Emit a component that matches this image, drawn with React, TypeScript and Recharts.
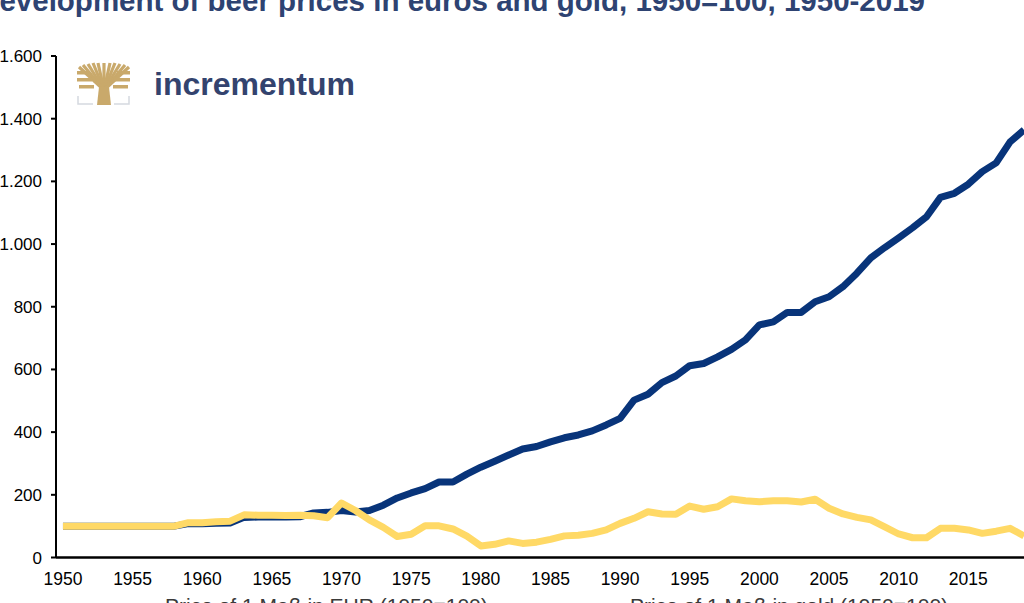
import React from 'react';
import { Legend, Line, LineChart, XAxis, YAxis } from 'recharts';

const YEARS = Array.from({ length: 70 }, (_, i) => 1950 + i);

// beer price (1 Maß) in EUR, 1950=100
const EUR_INDEX = [
  100, 100, 100, 100, 100, 100, 100, 100, 100, 108,
  108, 109, 110, 128, 129, 129, 129, 130, 142, 144,
  150, 145, 150, 167, 190, 206, 220, 241, 241, 266,
  288, 307, 327, 346, 354, 369, 382, 391, 404, 423,
  444, 502, 521, 558, 579, 612, 619, 640, 664, 694,
  742, 752, 782, 782, 816, 832, 864, 907, 956, 989,
  1020, 1052, 1087, 1149, 1162, 1191, 1231, 1259, 1326, 1364,
];

// beer price (1 Maß) in gold, 1950=100
const GOLD_INDEX = [
  100, 100, 100, 100, 100, 100, 100, 100, 100, 111,
  111, 114, 116, 136, 135, 135, 134, 135, 133, 127,
  174, 150, 120, 96, 67, 74, 101, 101, 91, 68,
  37, 42, 53, 45, 49, 58, 69, 71, 77, 88,
  109, 125, 146, 139, 138, 164, 154, 162, 187, 181,
  178, 181, 181, 177, 186, 157, 139, 128, 120, 98,
  75, 63, 63, 93, 93, 88, 77, 84, 93, 69,
];

const X_TICKS = [1950, 1955, 1960, 1965, 1970, 1975, 1980, 1985, 1990, 1995, 2000, 2005, 2010, 2015];
const Y_TICKS = [0, 200, 400, 600, 800, 1000, 1200, 1400, 1600];

const EUR_LABEL = 'Price of 1 Maß in EUR (1950=100)';
const GOLD_LABEL = 'Price of 1 Maß in gold (1950=100)';
const TITLE = 'Development of beer prices in euros and gold, 1950=100, 1950-2019';

const BLUE = '#08347a';
const GOLD = '#ffd966';
const FONT = "'Liberation Sans', Arial, sans-serif";

const rows = YEARS.map((year, i) => ({ year, eur: EUR_INDEX[i], gold: GOLD_INDEX[i] }));

// German style thousands separator: 1.600
const fmtY = (v: number) =>
  v >= 1000 ? `${Math.floor(v / 1000)}.${String(v % 1000).padStart(3, '0')}` : String(v);

function LegendContent() {
  const items = [
    { label: EUR_LABEL, color: BLUE, left: 165 },
    { label: GOLD_LABEL, color: GOLD, left: 630 },
  ];
  return (
    <div style={{ position: 'relative', width: 1024, height: 30 }}>
      {items.map((it) => (
        <div
          key={it.label}
          style={{
            position: 'absolute',
            left: it.left - 46,
            top: 0,
            display: 'flex',
            alignItems: 'center',
            whiteSpace: 'nowrap',
          }}
        >
          <span
            style={{ display: 'inline-block', width: 36, height: 7, background: it.color, marginRight: 10, marginTop: 16 }}
          />
          <span style={{ fontFamily: FONT, fontSize: 21, lineHeight: '24px', color: '#3a3a3a' }}>{it.label}</span>
        </div>
      ))}
    </div>
  );
}

function Logo() {
  const tips: Array<[number, number]> = [
    [2, 4], [6, 2], [11, 1], [16, 0], [21, 0], [27, 0], [33, 0], [38, 0], [43, 1], [48, 2], [52, 4],
  ];
  const gold = '#c9a96b';
  return (
    <g transform="translate(77,63)">
      {tips.map(([x, y], i) => (
        <line key={i} x1={27} y1={27} x2={x} y2={y} stroke={gold} strokeWidth={3.2} />
      ))}
      <rect x={0} y={8} width={13} height={3.5} fill={gold} />
      <rect x={40} y={8} width={13} height={3.5} fill={gold} />
      <rect x={0} y={15} width={15} height={3.5} fill={gold} />
      <rect x={38} y={15} width={15} height={3.5} fill={gold} />
      <rect x={2} y={22} width={15} height={3.5} fill={gold} />
      <rect x={36} y={22} width={15} height={3.5} fill={gold} />
      <path d="M20 42 L22 24 L32 24 L34 42 Z" fill={gold} />
      <path d="M1 33 L1 41 L16 41 M52 33 L52 41 L37 41" stroke="#d5d9e0" strokeWidth={1.5} fill="none" />
      <text
        x={77}
        y={32}
        fontFamily={FONT}
        fontWeight="bold"
        fontSize={31}
        fill="#33436e"
        textLength={201}
        lengthAdjust="spacingAndGlyphs"
      >
        incrementum
      </text>
    </g>
  );
}

export default function App() {
  return (
    <div style={{ position: 'absolute', left: 0, top: 0, width: 1024, height: 603, overflow: 'hidden', background: '#fff' }}>
      <LineChart width={1040} height={603} data={rows} margin={{ top: 56, right: 9, bottom: 15.5, left: 0 }}>
        <XAxis
          dataKey="year"
          type="number"
          domain={[1949.5, 2019.5]}
          ticks={X_TICKS}
          height={30}
          tickLine={false}
          tickSize={0}
          tickMargin={15}
          axisLine={{ stroke: '#000', strokeWidth: 2.5 }}
          tick={{ fill: '#000', fontSize: 17.5, fontFamily: FONT }}
          interval={0}
        />
        <YAxis
          type="number"
          domain={[0, 1600]}
          ticks={Y_TICKS}
          width={56}
          tickSize={5}
          tickMargin={9}
          tickFormatter={fmtY}
          axisLine={{ stroke: '#000', strokeWidth: 2 }}
          tickLine={{ stroke: '#000', strokeWidth: 2 }}
          tick={{ fill: '#000', fontSize: 17, fontFamily: FONT }}
          interval={0}
        />
        <Legend verticalAlign="middle" align="center" wrapperStyle={{ top: 594, left: 0, width: 1024 }} content={() => <LegendContent />} />
        <Line
          type="linear"
          dataKey="eur"
          name={EUR_LABEL}
          stroke={BLUE}
          strokeWidth={7}
          strokeLinejoin="round"
          dot={false}
          isAnimationActive={false}
        />
        <Line
          type="linear"
          dataKey="gold"
          name={GOLD_LABEL}
          stroke={GOLD}
          strokeWidth={7}
          strokeLinejoin="round"
          dot={false}
          isAnimationActive={false}
        />
      </LineChart>
      <svg width={1024} height={603} style={{ position: 'absolute', left: 0, top: 0, pointerEvents: 'none' }}>
        <text x={925} y={11} textAnchor="end" fontFamily={FONT} fontWeight="bold" fontSize={29.5} fill="#2e4372">
          {TITLE}
        </text>
        <Logo />
      </svg>
    </div>
  );
}
